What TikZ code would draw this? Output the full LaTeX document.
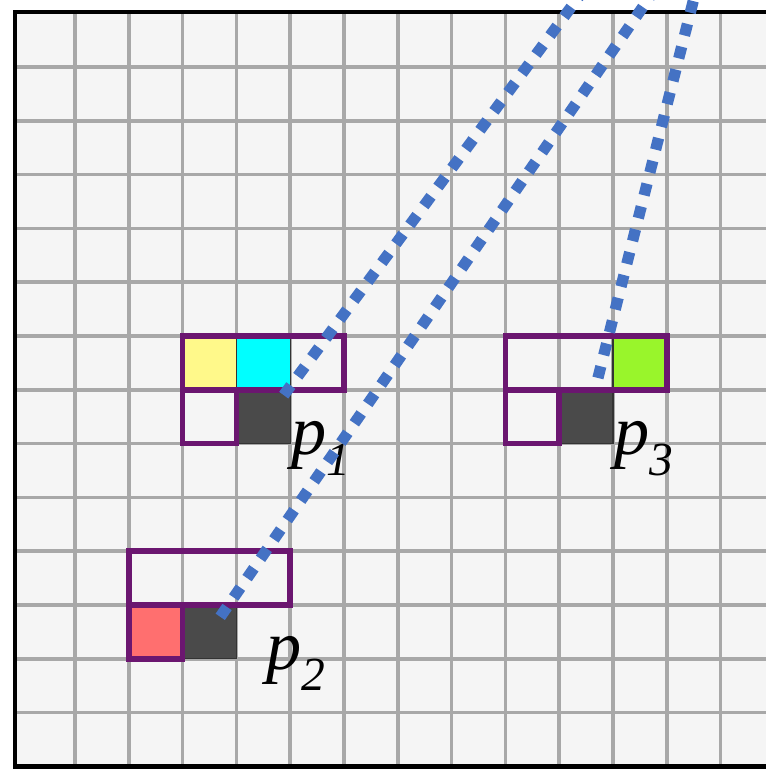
\documentclass[tikz,border=0pt]{standalone}
\usepackage{fontspec}
\setmainfont{Liberation Serif}
\usepackage{xcolor}
\usetikzlibrary{positioning}
\definecolor{CellDark}{RGB}{74,74,74}
\definecolor{CellYellow}{RGB}{255,249,138}
\definecolor{CellCyan}{RGB}{0,255,255}
\definecolor{CellGreen}{RGB}{153,245,43}
\definecolor{CellRed}{RGB}{255,111,111}
\definecolor{NbrPurple}{RGB}{107,22,112}
\definecolor{RayBlue}{RGB}{68,114,196}
\newcommand\plbl[1]{p\raisebox{-12pt}{\fontsize{27}{29}\selectfont #1}}

\begin{document}
\begin{tikzpicture}[x=1.076cm,y=-1.076cm,
        cell/.style={draw=black!80,line width=0.6pt,minimum size=1.076cm,inner sep=0pt},
        nbr/.style={draw=NbrPurple,line width=3.2pt},
        gridln/.style={draw=gray!68,line width=2pt},
        lbl/.style={inner sep=0pt,anchor=base west,font=\fontsize{40}{42}\selectfont\itshape},
        ray/.style={draw=RayBlue,line width=6.4pt,dash pattern=on 6.8pt off 6.6pt}
      ]
        \useasboundingbox (-1.394,-1.245) rectangle (12.844,13.086);
        \clip (-1.394,-1.245) rectangle (12.844,13.086);
        % background and grid
        \fill[gray!8] (-1.115,-1.022) rectangle (12.9,13.01);
        \foreach \k in {0,...,12} {
          \draw[gridln] (\k,-1.022) -- (\k,13.01);
          \draw[gridln] (-1.115,\k) -- (12.9,\k);
        }
        % pixel p1
        \node[cell,fill=CellYellow] (y1) at (2.5,5.5) {};
        \node[cell,fill=CellCyan]   (c1) at (3.5,5.5) {};
        \node[cell,fill=CellDark]   (d1) at (3.5,6.5) {};
        \draw[nbr] (2,5) rectangle (5,6);
        \draw[nbr] (2,6) rectangle (3,7);
        % pixel p3
        \node[cell,fill=CellGreen] (g3) at (10.5,5.5) {};
        \node[cell,fill=CellDark]  (d3) at (9.5,6.5) {};
        \draw[nbr] (8,5) rectangle (11,6);
        \draw[nbr] (8,6) rectangle (9,7);
        % pixel p2
        \node[cell,fill=CellRed]  (r2) at (1.5,10.5) {};
        \node[cell,fill=CellDark] (d2) at (2.5,10.5) {};
        \draw[nbr] (1,9) rectangle (4,10);
        \draw[nbr] (1,10) rectangle (2,11);
        % frame
        \draw[line width=2.8pt] (12.9,-1.022) -- (-1.115,-1.022) -- (-1.115,13.01) -- (12.9,13.01);
        % labels
        \node[lbl] (lp1) at (4.02,7.20) {\plbl{1}};
        \node[lbl] (lp3) at (10.02,7.20) {\plbl{3}};
        \node[lbl] (lp2) at (3.55,11.2) {\plbl{2}};
        % rays
        \coordinate (s1) at (3.88,6.1);
        \coordinate (s2) at (2.70,10.22);
        \coordinate (s3) at (9.72,5.78);
        \coordinate (e1) at (9.39,-1.34);
        \coordinate (e2) at (10.71,-1.34);
        \coordinate (e3) at (11.52,-1.34);
        \draw[ray] (s1) -- (e1);
        \draw[ray] (s2) -- (e2);
        \draw[ray] (s3) -- (e3);
      \end{tikzpicture}
\end{document}
